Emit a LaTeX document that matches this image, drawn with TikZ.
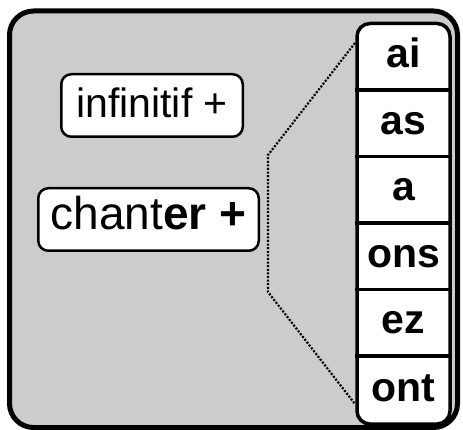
\documentclass[tikz,border=0pt]{standalone}
\usepackage{fontspec}
\setmainfont{Liberation Sans}
\begin{document}
\begin{tikzpicture}[x=1pt,y=-1pt,
  outerbox/.style={draw=black,line width=5pt,fill=bgray,rounded corners=24pt},
  wordbox/.style={draw=black,line width=2.5pt,fill=white,rounded corners=10pt,inner sep=0pt,text depth=0pt},
  colbox/.style={draw=black,line width=3.5pt,fill=white,rounded corners=13pt,inner sep=0pt,minimum width=93pt,minimum height=400.5pt},
  rowtext/.style={inner sep=0pt,minimum width=93pt,minimum height=66.5pt,text height=22pt,text depth=0pt,font=\fontsize{41}{48}\selectfont\bfseries},
  divider/.style={line width=3.5pt},
  zoomline/.style={line width=2.2pt,dash pattern=on 2pt off 1.6pt}
]
\definecolor{bgray}{HTML}{CCCCCC}
\useasboundingbox (0,0) rectangle (463,430);
\path[outerbox] (9.5,11) rectangle (457.5,427.5);
\node[wordbox,minimum width=181.5pt,minimum height=62.5pt,text height=24pt,font=\fontsize{41}{48}\selectfont] (inf) at (152,105.5) {infinitif +};
\node[wordbox,minimum width=220.5pt,minimum height=62.5pt,text height=21pt,font=\fontsize{46}{54}\selectfont] (chanter) at (148.5,219.5) {chant\textbf{er +}};
\node[colbox] (col) at (403.5,223.75) {};
\node[rowtext] (r1) at (403.5,56.75) {ai};
\node[rowtext] (r2) at (403.5,123.25) {as};
\node[rowtext] (r3) at (403.5,189.75) {a};
\node[rowtext] (r4) at (403.5,256.25) {ons};
\node[rowtext] (r5) at (403.5,322.75) {ez};
\node[rowtext,minimum height=68pt] (r6) at (403.5,390) {ont};
\draw[divider] (r1.south -| col.west) -- (r1.south -| col.east);
\draw[divider] (r2.south -| col.west) -- (r2.south -| col.east);
\draw[divider] (r3.south -| col.west) -- (r3.south -| col.east);
\draw[divider] (r4.south -| col.west) -- (r4.south -| col.east);
\draw[divider] (r5.south -| col.west) -- (r5.south -| col.east);
\coordinate (d0) at (355,43);
\coordinate (d1) at (268,155);
\coordinate (d2) at (268,292);
\coordinate (d3) at (355,404);
\draw[zoomline] (d0) -- (d1) -- (d2) -- (d3);
\end{tikzpicture}
\end{document}
